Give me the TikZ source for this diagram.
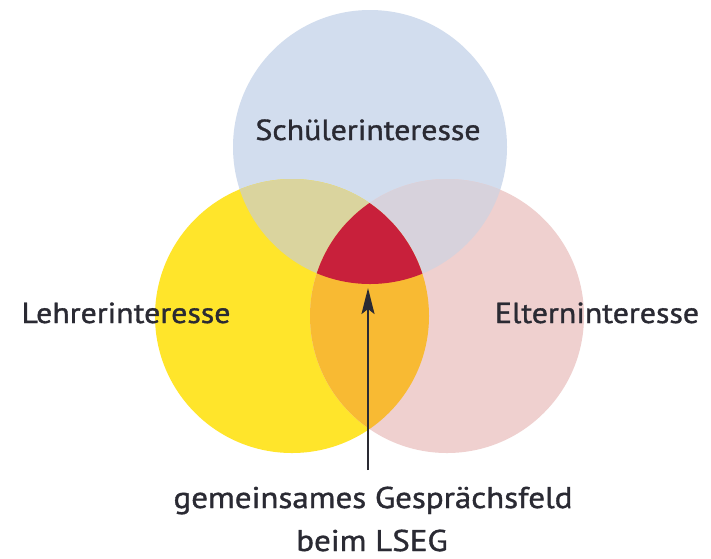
\documentclass[tikz,border=0pt]{standalone}
\usepackage{fontspec}
\setmainfont{PT Sans}[FakeStretch=1.1,FakeBold=1.2]
\usetikzlibrary{arrows.meta}
\definecolor{cBlue}{HTML}{D2DDEE}
\definecolor{cYellow}{HTML}{FFE52B}
\definecolor{cPink}{HTML}{EFD0CF}
\definecolor{cYB}{HTML}{DAD49E}
\definecolor{cBP}{HTML}{D7D2DC}
\definecolor{cYP}{HTML}{F8BA33}
\definecolor{cRed}{HTML}{C8203B}
\definecolor{cText}{HTML}{2A2A33}
\tikzset{
  setcircle/.style={circle, minimum size=274pt, inner sep=0pt, draw=none},
  lbl/.style={anchor=base, inner sep=0pt, text=cText, font=\fontsize{29}{34}\selectfont},
  biglbl/.style={anchor=base, inner sep=0pt, text=cText, font=\fontsize{30}{36}\selectfont},
  arr/.style={line width=2.2pt, draw=cText, -{Stealth[length=26pt,width=13pt,inset=5pt]}}
}
\begin{document}
\begin{tikzpicture}[x=1pt,y=-1pt]
\useasboundingbox (0,0) rectangle (711,558);
\fill[white] (0,0) rectangle (711,558);
% circles
\node[setcircle, fill=cBlue] (S) at (370,147) {};
\node[setcircle, fill=cYellow] (L) at (292,316) {};
\node[setcircle, fill=cPink] (E) at (447,316) {};
% pairwise overlaps
\begin{scope}
  \clip (L.center) circle[radius=137];
  \fill[cYB] (S.center) circle[radius=137];
\end{scope}
\begin{scope}
  \clip (E.center) circle[radius=137];
  \fill[cBP] (S.center) circle[radius=137];
\end{scope}
\begin{scope}
  \clip (L.center) circle[radius=137];
  \fill[cYP] (E.center) circle[radius=137];
\end{scope}
% triple overlap
\begin{scope}
  \clip (L.center) circle[radius=137];
  \clip (E.center) circle[radius=137];
  \fill[cRed] (S.center) circle[radius=137];
\end{scope}
% labels
\node[lbl] (ts) at (368,140) {Schülerinteresse};
\node[lbl] (tl) at (126,323) {Lehrerinteresse};
\node[lbl] (te) at (597,323) {Elterninteresse};
\node[biglbl] (g1) at (373,508) {gemeinsames Gesprächsfeld};
\node[biglbl] (g2) at (372,551) {beim LSEG};
\coordinate (tip) at (368,288);
\coordinate (abot) at (368,470);
\draw[arr] (abot) -- (tip);
\end{tikzpicture}
\end{document}
